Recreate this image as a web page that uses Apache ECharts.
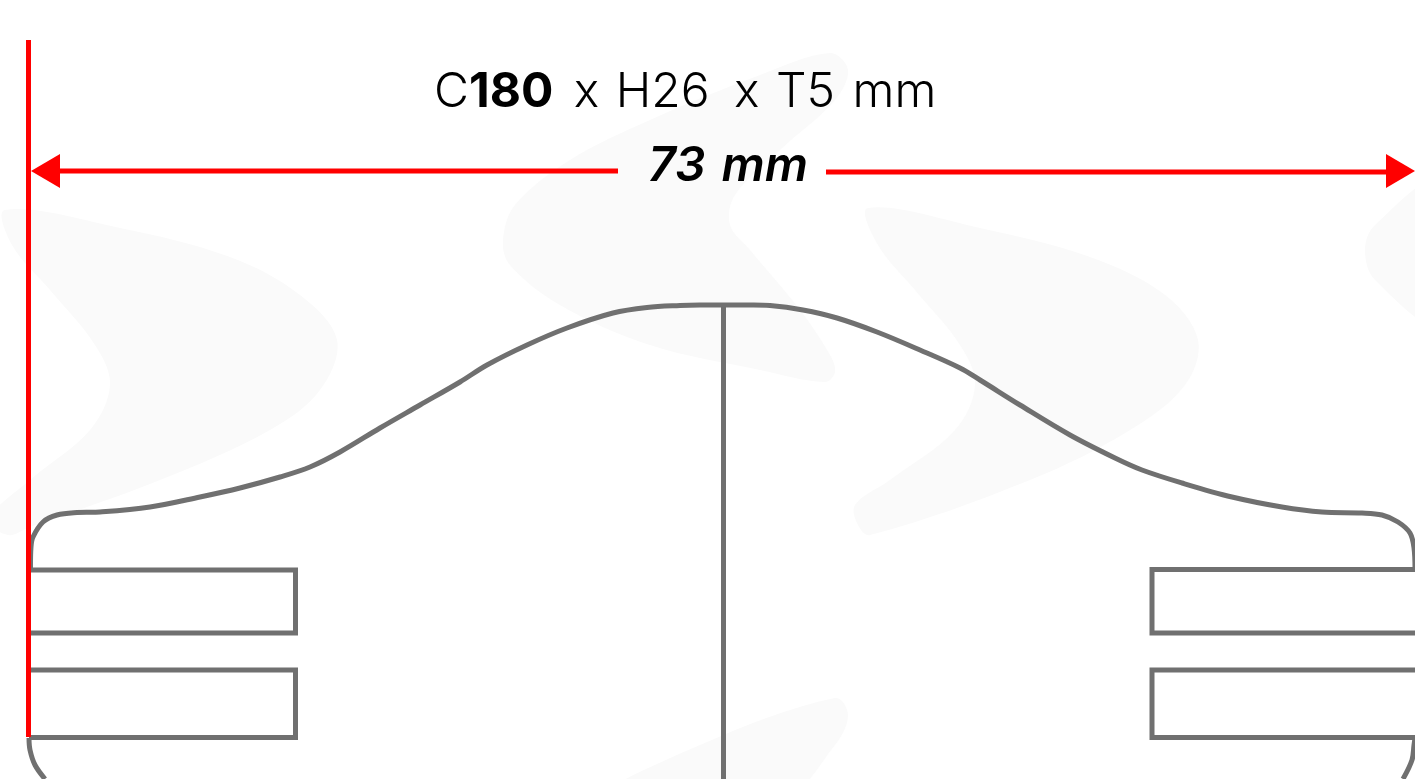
<!DOCTYPE html>
<html>
<head>
<meta charset="utf-8">
<title>C180 x H26 x T5 mm</title>
<script src="https://cdn.jsdelivr.net/npm/echarts@6/dist/echarts.min.js"></script>
<style>
    html, body { margin: 0; padding: 0; background: #fff; }
    #chart { width: 1415px; height: 779px; }
</style>
</head>
<body>
<div id="chart"></div>
<script>
const sizeParts = ['C', '180', ' x', ' H26', ' x', ' T5', ' mm'];
const widthParts = ['73', ' mm'];

const outlineBottomLeft = [
    [29, 738], [30, 750], [35, 765], [45, 779]
];
const outlineShoulder = [
    [30.5, 570], [31, 547], [33, 537], [43, 522], [57, 515], [77, 512.5], [100, 512], [150, 507], [200, 497], [240, 488],
    [280, 477], [310, 467], [340, 452], [380, 428], [420, 405], [460, 382], [487, 365], [527, 345],
    [567, 328], [613, 313], [647, 307.5], [680, 305.5], [700, 305], [745, 305], [770, 305.5], [803, 310], [837, 318],
    [877, 332], [920, 350], [960, 368], [980, 380], [1020, 405], [1070, 435], [1115, 458], [1142, 470],
    [1182, 483], [1232, 497], [1282, 507], [1322, 512], [1362, 513], [1382, 515], [1398, 522],
    [1410, 533], [1414, 548], [1415, 570]
];
const outlineBottomRight = [
    [1415, 738], [1414, 745], [1412, 760], [1403, 779]
];
const centerLine = [[723.5, 305], [723.5, 779]];
const leftSlotA = [[29, 570], [295.5, 570], [295.5, 633], [29, 633]];
const leftSlotB = [[29, 670], [295.5, 670], [295.5, 737.5], [29, 737.5]];
const rightSlotA = [[1415, 569.5], [1152, 569.5], [1152, 633], [1415, 633]];
const rightSlotB = [[1415, 670], [1152, 670], [1152, 737.5], [1415, 737.5]];

const edgeLine = [[28.5, 40], [28.5, 737]];
const arrowLeft = [[50, 171], [618, 171]];
const arrowRight = [[826, 172], [1390, 172]];
const arrowHeads = [[45.5, 171, 90], [1400.5, 171, -90]];

// faint logo shapes behind the drawing
const logoShapes = [
    [[5, 210], [120, 228], [230, 257], [300, 295], [337, 340], [320, 390], [270, 430], [160, 480], [30, 527],
     [8, 535], [-12, 520], [30, 480], [90, 430], [110, 385], [95, 345], [50, 290], [12, 245]],
    [[830, 53], [848, 70], [835, 100], [780, 150], [735, 195], [730, 225], [750, 250], [800, 310], [830, 355],
     [835, 372], [825, 382], [760, 370], [650, 345], [560, 305], [510, 265], [503, 240], [515, 205], [570, 160],
     [650, 120], [760, 75]],
    [[868, 208], [980, 228], [1090, 257], [1165, 295], [1198, 340], [1185, 385], [1130, 430], [1030, 480],
     [870, 535], [858, 525], [855, 505], [890, 480], [955, 430], [975, 385], [960, 345], [915, 290], [878, 245]],
    [[1440, 180], [1375, 225], [1365, 250], [1375, 280], [1440, 325]],
    [[835, 698], [848, 715], [835, 745], [780, 800], [600, 800], [700, 745]]
];

const outlines = [outlineBottomLeft, outlineShoulder, outlineBottomRight];

const chart = echarts.init(document.getElementById('chart'));

const grayLine = { color: '#707070', width: 5, join: 'miter', cap: 'butt' };
const redLine = { color: '#ff0000', width: 5, cap: 'butt' };

function lineSeries(data, style, z) {
    return {
        type: 'line',
        data: data,
        symbol: 'none',
        silent: true,
        animation: false,
        lineStyle: style,
        z: z
    };
}

const sizeStyles = ['a', 'b', 'x', 'c', 'd', 'c', 'e'];
const thin = { fontFamily: 'Inter', fontSize: 48, fontWeight: 300, color: '#000', lineHeight: 58 };
const italic = { fontFamily: 'Inter', fontSize: 48, fontWeight: 600, fontStyle: 'italic', color: '#000', lineHeight: 58 };

chart.setOption({
    animation: false,
    backgroundColor: '#ffffff',
    title: [
        {
            left: 429,
            top: 59,
            text: sizeParts.map((p, i) => `{${sizeStyles[i]}|${p}}`).join(''),
            textStyle: {
                rich: {
                    a: thin,
                    b: Object.assign({}, thin, { fontWeight: 700 }),
                    x: Object.assign({}, thin, { padding: [0, 0, 0, 7] }),
                    c: Object.assign({}, thin, { padding: [0, 0, 0, 3] }),
                    d: Object.assign({}, thin, { padding: [0, 0, 0, 11] }),
                    e: Object.assign({}, thin, { padding: [0, 0, 0, 4] })
                }
            }
        },
        {
            left: 643,
            top: 133,
            text: `{a|${widthParts[0]}}{b|${widthParts[1]}}`,
            textStyle: {
                rich: {
                    a: italic,
                    b: Object.assign({}, italic, { padding: [0, 0, 0, 4] })
                }
            }
        }
    ],
    grid: { left: 0, right: 0, top: 0, bottom: 0 },
    xAxis: { type: 'value', min: 0, max: 1415, show: false },
    yAxis: { type: 'value', min: 0, max: 779, inverse: true, show: false },
    series: [
        {
            type: 'custom',
            data: logoShapes.map((s, i) => [i]),
            silent: true,
            z: 1,
            renderItem: (params, api) => ({
                type: 'polygon',
                shape: { points: logoShapes[params.dataIndex].map(p => api.coord(p)), smooth: 0.35 },
                style: { fill: '#fafafa' }
            })
        },
        {
            // the line series smoothing kinks on these points, polyline smooth does not
            type: 'custom',
            data: outlines.map((s, i) => [i]),
            silent: true,
            z: 2,
            renderItem: (params, api) => ({
                type: 'polyline',
                shape: { points: outlines[params.dataIndex].map(p => api.coord(p)), smooth: 0.35 },
                style: { fill: null, stroke: grayLine.color, lineWidth: grayLine.width }
            })
        },
        lineSeries(centerLine, grayLine, 2),
        lineSeries(leftSlotA, grayLine, 2),
        lineSeries(leftSlotB, grayLine, 2),
        lineSeries(rightSlotA, grayLine, 2),
        lineSeries(rightSlotB, grayLine, 2),
        lineSeries(edgeLine, redLine, 3),
        lineSeries(arrowLeft, redLine, 3),
        lineSeries(arrowRight, redLine, 3),
        {
            type: 'scatter',
            data: arrowHeads.map(a => ({ value: [a[0], a[1]], symbolRotate: a[2] })),
            symbol: 'triangle',
            symbolSize: [34, 29],
            silent: true,
            itemStyle: { color: '#ff0000', opacity: 1 },
            z: 4
        }
    ]
});

window.addEventListener('resize', () => {
    chart.resize();
});
</script>
</body>
</html>
